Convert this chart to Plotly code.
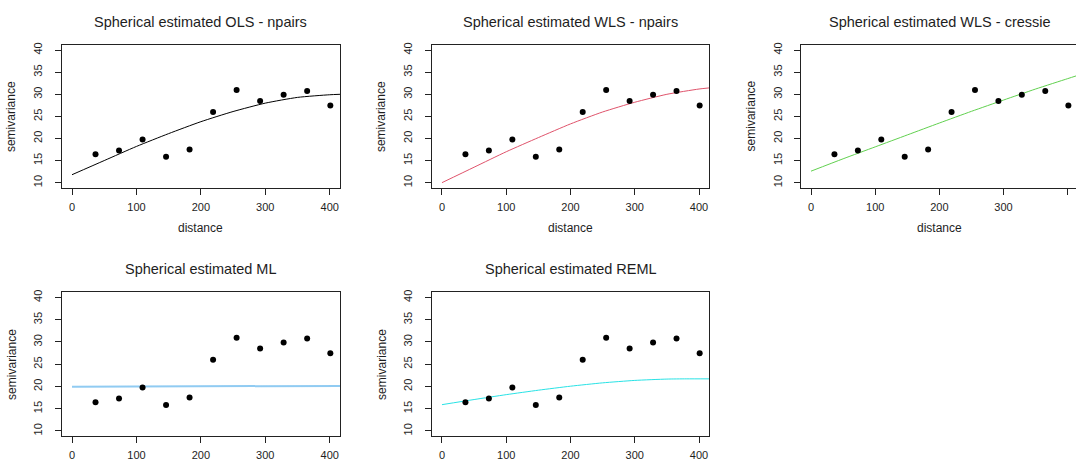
import plotly.graph_objects as go

W, H = 1076, 461

distance = [36.5, 73, 109.5, 146, 182.5, 219, 255.5, 292, 328.5, 365, 401]
semivariance = [16.45, 17.27, 19.75, 15.85, 17.5, 26.0, 30.95, 28.5, 29.9, 30.75, 27.45]

# fitted curves, values
curve_h = [0, 50, 100, 150, 200, 250, 300, 350, 400, 416]
ols_npairs = [11.8, 15.0, 18.2, 21.1, 23.8, 26.1, 28.0, 29.3, 29.9, 30.0]
wls_npairs = [10.0, 13.5, 17.0, 20.2, 23.3, 26.0, 28.2, 30.0, 31.2, 31.45]
wls_cressie = [12.6, 15.4, 18.1, 20.8, 23.5, 26.15, 28.7, 31.2, 33.55, 34.3]
reml_h = [0, 50, 100, 150, 200, 250, 300, 350, 380, 416]
reml = [15.9, 17.05, 18.15, 19.15, 20.05, 20.8, 21.35, 21.65, 21.7, 21.7]
ml_h = [0, 13, 14, 416]
ml = [19.95, 19.95, 20.12, 20.12]

titles = ["Spherical estimated OLS - npairs", "Spherical estimated WLS - npairs",
          "Spherical estimated WLS - cressie", "Spherical estimated ML",
          "Spherical estimated REML"]
x_ticks = [0, 100, 200, 300, 400]
y_ticks = [10, 15, 20, 25, 30, 35, 40]

FONT = "Liberation Sans, Arial, sans-serif"
TXT = "#1e1e1e"
BOX = "#222222"

# panel boxes in pixels (left, right, top, bottom)
boxes = [
    (61.7, 340.0, 43.3, 188.0),
    (431.7, 709.3, 43.3, 188.0),
    (801.0, 1076.0, 43.3, 188.0),
    (61.7, 340.0, 293.3, 439.0),
    (431.7, 709.3, 293.3, 439.0),
]
xranges = [[-16, 416], [-16, 416], [-15.6, 412.9], [-16, 416], [-16, 416]]
curves = [
    (curve_h, ols_npairs, "#000000", 1, "spline"),
    (curve_h, wls_npairs, "#DF536B", 1, "spline"),
    (curve_h, wls_cressie, "#61D04F", 1, "spline"),
    (ml_h, ml, "rgba(34,151,230,0.5)", 2, "linear"),
    (reml_h, reml, "#28E2E5", 1, "spline"),
]

fig = go.Figure()
annotations = []
for i, (l, r, t, b) in enumerate(boxes):
    n = i + 1
    xa = "x" if n == 1 else f"x{n}"
    ya = "y" if n == 1 else f"y{n}"
    ch, cv, col, lw, shape = curves[i]
    fig.add_trace(go.Scatter(x=ch, y=cv, mode="lines", xaxis=xa, yaxis=ya,
                             line=dict(color=col, width=lw, shape=shape, smoothing=0.6),
                             showlegend=False, hoverinfo="skip"))
    fig.add_trace(go.Scatter(x=distance, y=semivariance, mode="markers", xaxis=xa, yaxis=ya,
                             marker=dict(color="#000000", size=6),
                             showlegend=False))
    common = dict(showline=True, linecolor=BOX, linewidth=1, ticks="outside", ticklen=6,
                  tickwidth=1, tickcolor=BOX, showgrid=False, zeroline=False,
                  tickfont=dict(family=FONT, size=11, color=TXT))
    xd = [l / W, min(r / W, 1.0)]
    yd = [1 - b / H, 1 - t / H]
    fig.layout[("xaxis" if n == 1 else f"xaxis{n}")] = dict(
        domain=xd, range=xranges[i], anchor=ya, tickvals=x_ticks,
        mirror=True, ticklabelstandoff=3, **common)
    fig.layout[("yaxis" if n == 1 else f"yaxis{n}")] = dict(
        domain=yd, range=[8.8, 41.2], anchor=xa, tickvals=y_ticks, tickangle=-90,
        mirror=(n != 3), ticklabelstandoff=8, **common)
    rr = r if n != 3 else 1078
    # title
    annotations.append(dict(text=titles[i], x=((l + rr) / 2) / W, y=1 - (t - 23.3) / H,
                            xref="paper", yref="paper", showarrow=False,
                            xanchor="center", yanchor="middle",
                            font=dict(family=FONT, size=14.5, color=TXT)))
    # y label
    annotations.append(dict(text="semivariance", x=(l - 50) / W, y=1 - ((t + b) / 2) / H,
                            xref="paper", yref="paper", showarrow=False, textangle=-90,
                            xanchor="center", yanchor="middle",
                            font=dict(family=FONT, size=12, color=TXT)))
    # x label (only the top row's labels fall inside the picture)
    if b + 40.7 < H:
        annotations.append(dict(text="distance", x=((l + rr) / 2) / W,
                                y=1 - (b + 40.7) / H, xref="paper", yref="paper",
                                showarrow=False, xanchor="center", yanchor="middle",
                                font=dict(family=FONT, size=12, color=TXT)))

fig.update_layout(width=W, height=H, margin=dict(l=0, r=0, t=0, b=0),
                  paper_bgcolor="white", plot_bgcolor="white",
                  annotations=annotations, showlegend=False)
fig.write_html("out.html")
